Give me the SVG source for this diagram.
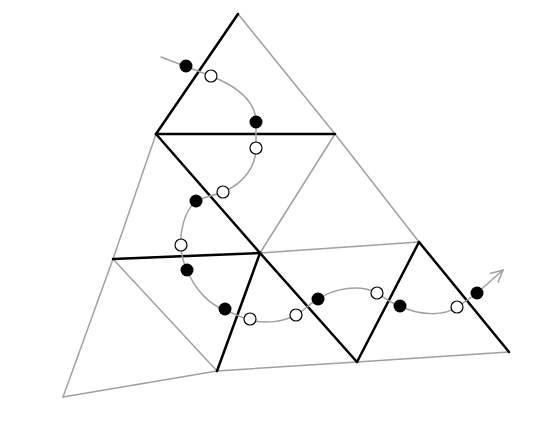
<svg xmlns="http://www.w3.org/2000/svg" width="545" height="425" viewBox="0 0 545 425">
<style>
.g{stroke:#a0a0a0;stroke-width:1.5;fill:none;stroke-linecap:round}
.b{stroke:#000;stroke-width:2.5;fill:none;stroke-linecap:round}
.f{fill:#000}
.o{fill:#fff;stroke:#000;stroke-width:1.2}
</style>
<defs>
<marker id="arr" markerUnits="userSpaceOnUse" markerWidth="20" markerHeight="20" refX="14" refY="7" orient="auto" viewBox="0 0 20 20">
<polyline points="2,1 14,7 2,13" fill="none" stroke="#a0a0a0" stroke-width="1.5"/>
</marker>
</defs>
<rect width="545" height="425" fill="#fff"/>
<g id="mesh">
<line class="g" x1="238" y1="14" x2="335" y2="134"/>
<line class="g" x1="335" y1="134" x2="260" y2="253"/>
<line class="g" x1="335" y1="134" x2="419" y2="242"/>
<line class="g" x1="156" y1="134" x2="113" y2="259"/>
<line class="g" x1="113" y1="259" x2="63" y2="397"/>
<line class="g" x1="113" y1="259" x2="217" y2="371"/>
<line class="g" x1="63" y1="397" x2="217" y2="371"/>
<line class="g" x1="217" y1="371" x2="357" y2="362"/>
<line class="g" x1="357" y1="362" x2="509" y2="352"/>
<line class="g" x1="260" y1="253" x2="419" y2="242"/>
<line class="b" x1="238" y1="14" x2="156" y2="134"/>
<line class="b" x1="156" y1="134" x2="335" y2="134"/>
<line class="b" x1="156" y1="134" x2="260" y2="253"/>
<line class="b" x1="113" y1="259" x2="260" y2="253"/>
<line class="b" x1="260" y1="253" x2="217" y2="371"/>
<line class="b" x1="260" y1="253" x2="357" y2="362"/>
<line class="b" x1="357" y1="362" x2="419" y2="242"/>
<line class="b" x1="419" y1="242" x2="509" y2="352"/>
</g>
<g id="connectors">
<path class="g" marker-end="url(#arr)" d="M161,57 L211,76 C236,86 256,100 256,122 L256,148 C256,165 245,183 223,192 C212,196 200,198 195,202 C184,212 180,232 181,245 C181,256 183,262 187,270 C195,290 210,305 225,310 C235,314 242,318 250,320 C265,324 283,322 296,315 C305,310 310,303 318,299 C335,288 360,284 377,293 C385,298 392,304 400,306 C420,316 445,316 457,307 C465,302 470,298 477,293 L503,270"/>
</g>
<g id="dots">
<circle class="f" cx="186" cy="66" r="6.5"/>
<circle class="f" cx="256" cy="122" r="6.5"/>
<circle class="f" cx="196" cy="201" r="6.5"/>
<circle class="f" cx="187" cy="270" r="6.5"/>
<circle class="f" cx="225" cy="309" r="6.5"/>
<circle class="f" cx="318" cy="299" r="6.5"/>
<circle class="f" cx="400" cy="306" r="6.5"/>
<circle class="f" cx="477" cy="293" r="6.5"/>
<circle class="o" cx="211" cy="76" r="6"/>
<circle class="o" cx="256" cy="148" r="6"/>
<circle class="o" cx="223" cy="192" r="6"/>
<circle class="o" cx="181" cy="245" r="6"/>
<circle class="o" cx="250" cy="319" r="6"/>
<circle class="o" cx="296" cy="315" r="6"/>
<circle class="o" cx="377" cy="293" r="6"/>
<circle class="o" cx="457" cy="307" r="6"/>
</g>
</svg>
